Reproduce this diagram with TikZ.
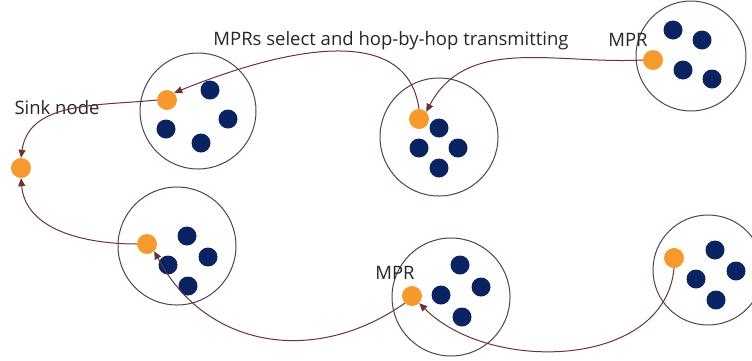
\documentclass[tikz,border=0pt]{standalone}
\usepackage{fontspec}
\setmainfont{Open Sans}
\usetikzlibrary{arrows.meta}
\definecolor{ringcol}{HTML}{4A4262}
\definecolor{navydot}{HTML}{0B2461}
\definecolor{mprdot}{HTML}{F79A2E}
\definecolor{hopcol}{HTML}{6A3434}
\begin{document}
\begin{tikzpicture}[x=1pt,y=-1pt,
  ring/.style={draw=ringcol,line width=1pt,fill=none},
  member/.style={circle,fill=navydot,minimum size=19pt,inner sep=0pt},
  relay/.style={circle,fill=mprdot,minimum size=20pt,inner sep=0pt},
  hop/.style={draw=hopcol,line width=1pt,-{Triangle[length=8pt,width=7pt]}},
  lbl/.style={font=\fontsize{18.5}{21}\selectfont,text=black!85,inner sep=0pt}]
\useasboundingbox (0,0) rectangle (752,360);

% clusters
\draw[ring] (198,111) circle (58);
\draw[ring] (439,137) circle (59);
\draw[ring] (691,56) circle (55);
\draw[ring] (177,246) circle (59);
\draw[ring] (451,297) circle (59);
\draw[ring] (708,270) circle (55);

% cluster A (top left)
\node[relay] (a0) at (167,100) {};
\node[member] (a1) at (210,90) {};
\node[member] (a2) at (166,129) {};
\node[member] (a3) at (201,143) {};
\node[member] (a4) at (228,119) {};

% cluster B (top middle)
\node[relay] (b0) at (419,119) {};
\node[member] (b1) at (439,128) {};
\node[member] (b2) at (419,148) {};
\node[member] (b3) at (458,148) {};
\node[member] (b4) at (439,168) {};

% cluster C (top right)
\node[relay] (c0) at (653,60) {};
\node[member] (c1) at (673,30) {};
\node[member] (c2) at (702,40) {};
\node[member] (c3) at (683,70) {};
\node[member] (c4) at (712,79) {};

% cluster D (bottom left)
\node[relay] (d0) at (147,244) {};
\node[member] (d1) at (187,236) {};
\node[member] (d2) at (208,257) {};
\node[member] (d3) at (168,265) {};
\node[member] (d4) at (188,286) {};

% cluster E (bottom middle)
\node[relay] (e0) at (412,296) {};
\node[member] (e1) at (460,265) {};
\node[member] (e2) at (481,287) {};
\node[member] (e3) at (441,295) {};
\node[member] (e4) at (462,317) {};

% cluster F (bottom right)
\node[relay] (f0) at (674,258) {};
\node[member] (f1) at (715,250) {};
\node[member] (f2) at (736,271) {};
\node[member] (f3) at (696,279) {};
\node[member] (f4) at (716,300) {};

% sink
\node[relay] (sink) at (21,168) {};

% labels
\node[lbl] (tsink) at (57,108) {Sink node};
\node[lbl] (ttitle) at (391,41) {MPRs select and hop-by-hop transmitting};
\node[lbl] (tmpr1) at (628,40) {MPR};
\node[lbl] (tmpr2) at (395,273) {MPR};

% hop-by-hop paths
\draw[hop] (c0.west) to[out=183,in=62] (b0.north east);
\draw[hop] (b0.north) to[out=98,in=22] (a0.north east);
\draw[hop] (a0.west) to[out=186,in=82] (sink.north);
\draw[hop] (d0.west) to[out=180,in=-85] (sink.south);
\draw[hop] (e0.south west) to[out=-145,in=-62,looseness=1.1] (d0.south east);
\draw[hop] (f0.south) to[out=-95,in=-45] (e0.south east);
\end{tikzpicture}
\end{document}
